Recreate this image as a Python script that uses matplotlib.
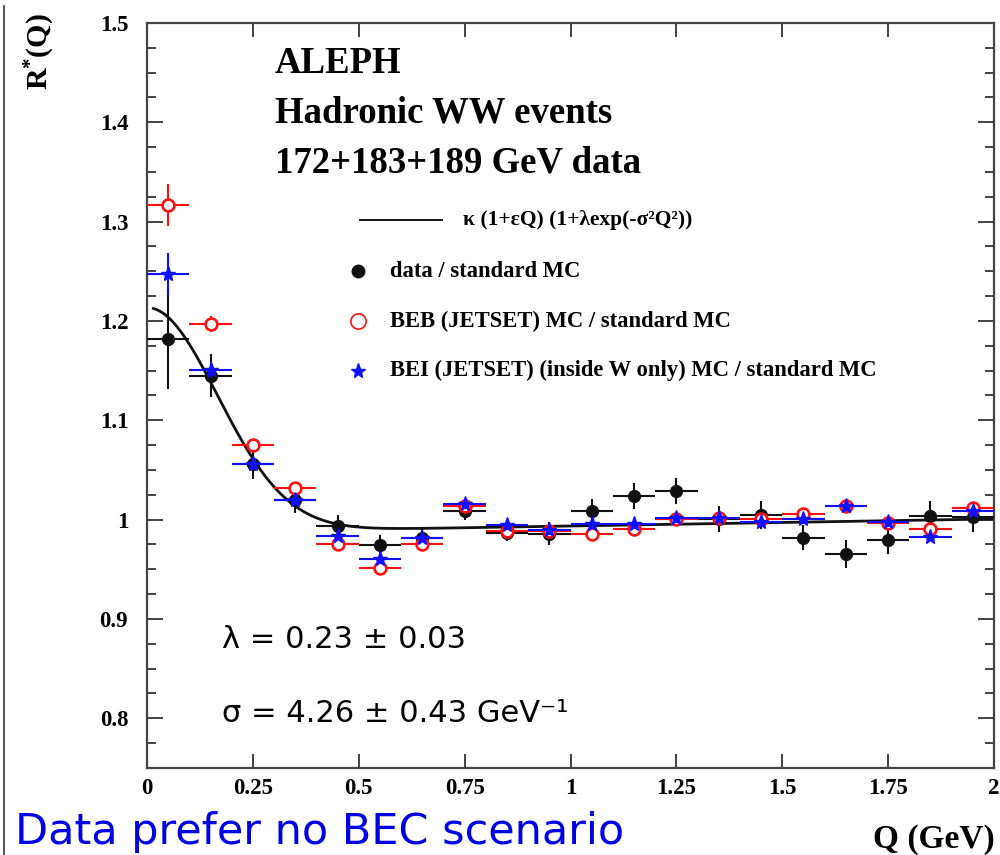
import numpy as np
import matplotlib
matplotlib.use("Agg")
import matplotlib.pyplot as plt
from matplotlib.lines import Line2D
from matplotlib.ticker import MultipleLocator, FixedLocator, FixedFormatter

# ---------------- data ----------------
q_centers = [0.05, 0.15, 0.25, 0.35, 0.45, 0.55, 0.65, 0.75, 0.85, 0.95,
             1.05, 1.15, 1.25, 1.35, 1.45, 1.55, 1.65, 1.75, 1.85, 1.95]
q_halfwidth = [0.05] * 20

data_r = [1.182, 1.145, 1.056, 1.020, 0.994, 0.974, 0.982, 1.009, 0.987, 0.986,
          1.009, 1.024, 1.029, 1.001, 1.005, 0.982, 0.965, 0.980, 1.004, 1.003]
data_err = [0.050, 0.022, 0.015, 0.013, 0.011, 0.011, 0.011, 0.009, 0.009, 0.012,
            0.012, 0.013, 0.013, 0.013, 0.014, 0.013, 0.014, 0.015, 0.015, 0.015]

beb_r = [1.317, 1.197, 1.075, 1.032, 0.975, 0.951, 0.975, 1.014, 0.989, 0.989,
         0.986, 0.991, 1.001, 1.002, 1.001, 1.006, 1.014, 0.997, 0.991, 1.012]
beb_err = [0.021, 0.008, 0.006, 0.005, 0.005, 0.005, 0.005, 0.005, 0.005, 0.005,
           0.005, 0.005, 0.005, 0.005, 0.005, 0.005, 0.005, 0.005, 0.005, 0.005]

bei_r = [1.247, 1.151, 1.056, 1.020, 0.984, 0.960, 0.982, 1.016, 0.995, 0.990,
         0.996, 0.996, 1.002, 1.002, 0.998, 1.001, 1.014, 0.998, 0.983, 1.009]
bei_err = [0.021, 0.008, 0.006, 0.005, 0.005, 0.005, 0.005, 0.005, 0.005, 0.005,
           0.005, 0.005, 0.005, 0.005, 0.005, 0.005, 0.005, 0.005, 0.005, 0.005]

# fit parameters: kappa (1 + eps Q) (1 + lambda exp(-sigma^2 Q^2))
fit_kappa = 0.9865
fit_eps = 0.0072
fit_lambda, fit_lambda_err = 0.23, 0.03
fit_sigma, fit_sigma_err = 4.26, 0.43

x_ticks = [0, 0.25, 0.5, 0.75, 1.0, 1.25, 1.5, 1.75, 2.0]
x_ticklabels = ["0", "0.25", "0.5", "0.75", "1", "1.25", "1.5", "1.75", "2"]
y_ticks = [0.8, 0.9, 1.0, 1.1, 1.2, 1.3, 1.4, 1.5]
y_ticklabels = ["0.8", "0.9", "1", "1.1", "1.2", "1.3", "1.4", "1.5"]

legend_labels = ["data / standard MC",
                 "BEB (JETSET) MC / standard MC",
                 "BEI (JETSET) (inside W only) MC / standard MC"]

# ---------------- style ----------------
plt.rcParams["mathtext.fontset"] = "custom"
plt.rcParams["mathtext.rm"] = "Liberation Serif"
plt.rcParams["mathtext.bf"] = "Liberation Serif:bold"
SERIF = "Liberation Serif"
BLUE = "#1010ff"
RED = "#ff1010"
BLACK = "#111111"

fig = plt.figure(figsize=(10, 8.55), dpi=100)
ax = fig.add_axes([0.147, 0.1018, 0.847, 0.8713])

# fit curve
qf = np.linspace(0.015, 2.0, 400)
rf = fit_kappa * (1 + fit_eps * qf) * (1 + fit_lambda * np.exp(-(fit_sigma ** 2) * qf ** 2))
ax.plot(qf, rf, color=BLACK, lw=2.0, zorder=2.5)

# measurements
ax.errorbar(q_centers, data_r, xerr=q_halfwidth, yerr=data_err, fmt="o",
            color=BLACK, ms=8.5, elinewidth=1.5, capsize=0, zorder=3)
ax.errorbar(q_centers, beb_r, xerr=q_halfwidth, yerr=beb_err, fmt="o",
            color=RED, mfc="white", mec=RED, mew=1.9, ms=8.5,
            elinewidth=1.5, capsize=0, zorder=4)
ax.errorbar(q_centers, bei_r, xerr=q_halfwidth, yerr=bei_err, fmt="*",
            color=BLUE, ms=11, elinewidth=1.5, capsize=0, zorder=5)

ax.set_xlim(0, 2)
ax.set_ylim(0.75, 1.5)

ax.xaxis.set_major_locator(FixedLocator(x_ticks))
ax.xaxis.set_major_formatter(FixedFormatter(x_ticklabels))
ax.yaxis.set_major_locator(FixedLocator(y_ticks))
ax.yaxis.set_major_formatter(FixedFormatter(y_ticklabels))
ax.yaxis.set_minor_locator(MultipleLocator(0.025))

ax.tick_params(axis="x", which="major", direction="in", length=10, width=1.3,
               top=True, bottom=True, pad=7, color="#333333")
ax.tick_params(axis="y", which="major", direction="in", length=11.5, width=1.3,
               left=True, right=True, pad=13.5, color="#333333")
ax.tick_params(axis="y", which="minor", direction="in", length=6.5, width=1.3,
               left=True, right=True, color="#333333")
for lab in ax.get_xticklabels() + ax.get_yticklabels():
    lab.set_fontfamily(SERIF)
    lab.set_fontweight("bold")
    lab.set_fontsize(16.5)

for sp in ax.spines.values():
    sp.set_color("#444444")
    sp.set_linewidth(1.6)

# header text
for txt, yb in [("ALEPH", 0.933), ("Hadronic WW events", 0.866),
                ("172+183+189 GeV data", 0.799)]:
    ax.text(0.151, yb, txt, transform=ax.transAxes, fontfamily=SERIF,
            fontweight="bold", fontsize=26.5, va="baseline", ha="left")

# legend, drawn by hand
ax.plot([0.2515, 0.348], [0.7356, 0.7356], transform=ax.transAxes,
        color=BLACK, lw=1.4, clip_on=False)
ax.text(0.373, 0.7356, "κ (1+εQ) (1+λexp(-σ²Q²))", transform=ax.transAxes,
        fontfamily=SERIF, fontweight="bold", fontsize=15.5, va="center", ha="left")
leg_y = [0.667, 0.600, 0.533]
ax.plot([0.249], [leg_y[0]], "o", color=BLACK, ms=9, transform=ax.transAxes)
ax.plot([0.249], [leg_y[1]], "o", mfc="white", mec=RED, mew=1.2, ms=11,
        transform=ax.transAxes)
ax.plot([0.249], [leg_y[2]], "*", color=BLUE, ms=11, transform=ax.transAxes)
for lbl, yy in zip(legend_labels, leg_y):
    ax.text(0.287, yy, lbl, transform=ax.transAxes, fontfamily=SERIF,
            fontweight="bold", fontsize=16.3, va="center", ha="left")

# fit result
ax.text(0.0885, 0.161, f"λ = {fit_lambda:.2f} ± {fit_lambda_err:.2f}",
        transform=ax.transAxes, fontfamily="DejaVu Sans", fontsize=22,
        va="baseline", ha="left")
ax.text(0.0885, 0.0617, f"σ = {fit_sigma:.2f} ± {fit_sigma_err:.2f} GeV⁻¹",
        transform=ax.transAxes, fontfamily="DejaVu Sans", fontsize=22,
        va="baseline", ha="left")

# axis titles
fig.text(0.040, 0.94, r"$\mathbf{R^{*}(Q)}$", rotation=90, fontsize=21.5,
         ha="center", va="center")
fig.text(0.995, 0.008, "Q (GeV)", fontfamily=SERIF, fontweight="bold",
         fontsize=24, ha="right", va="baseline")

# slide caption
fig.text(0.015, 0.013, "Data prefer no BEC scenario", color="#0000e6",
         fontfamily="DejaVu Sans", fontsize=31, ha="left", va="baseline")

# slide frame edge
fig.add_artist(Line2D([0.004, 0.004], [0.0, 0.993], transform=fig.transFigure,
                      color="#333333", lw=1.2))

fig.savefig("out.png", dpi=100, facecolor="white")
